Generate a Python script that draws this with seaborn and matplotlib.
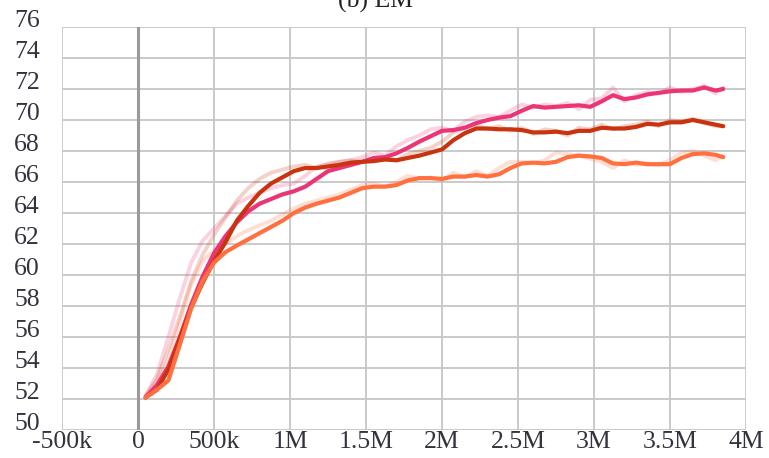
import matplotlib
matplotlib.use("Agg")
import matplotlib.pyplot as plt
import numpy as np
import pandas as pd
import seaborn as sns

# training steps (thousands)
steps_k = [50, 125, 200, 275, 350, 425, 500, 575, 650, 725, 800, 875, 950, 1025,
           1100, 1175, 1250, 1325, 1400, 1475, 1550, 1625, 1700, 1775, 1850, 1925,
           2000, 2075, 2150, 2225, 2300, 2375, 2450, 2525, 2600, 2675, 2750, 2825,
           2900, 2975, 3050, 3125, 3200, 3275, 3350, 3425, 3500, 3575, 3650, 3725,
           3800, 3850]

# smoothed curves
pink = [52.1, 52.9, 54.1, 56.0, 58.1, 59.9, 61.4, 62.5, 63.4, 64.1, 64.6, 64.9, 65.2,
        65.4, 65.7, 66.2, 66.7, 66.9, 67.1, 67.3, 67.55, 67.6, 67.85, 68.2, 68.6, 68.95,
        69.3, 69.35, 69.5, 69.8, 70.0, 70.15, 70.25, 70.6, 70.9, 70.8, 70.85, 70.9,
        70.95, 70.85, 71.2, 71.6, 71.35, 71.45, 71.65, 71.75, 71.85, 71.9, 71.9, 72.1,
        71.9, 72.0]
darkred = [52.1, 52.6, 53.9, 55.9, 57.9, 59.5, 60.9, 62.1, 63.5, 64.45, 65.3, 65.9, 66.3,
           66.7, 66.9, 66.9, 67.0, 67.1, 67.25, 67.3, 67.35, 67.45, 67.4, 67.55, 67.7,
           67.9, 68.1, 68.7, 69.15, 69.45, 69.45, 69.4, 69.4, 69.35, 69.2, 69.2, 69.25,
           69.15, 69.3, 69.3, 69.5, 69.45, 69.45, 69.55, 69.75, 69.7, 69.85, 69.85, 70.0,
           69.85, 69.7, 69.6]
orange = [52.1, 52.6, 53.2, 55.5, 57.85, 59.6, 60.8, 61.47, 61.9, 62.3, 62.7, 63.1, 63.5,
          64.0, 64.35, 64.6, 64.8, 65.0, 65.3, 65.6, 65.7, 65.7, 65.8, 66.1, 66.25, 66.25,
          66.2, 66.35, 66.35, 66.45, 66.35, 66.5, 66.9, 67.2, 67.25, 67.2, 67.3, 67.6,
          67.7, 67.65, 67.55, 67.2, 67.15, 67.25, 67.15, 67.15, 67.15, 67.55, 67.8, 67.85,
          67.75, 67.6]

# raw (faint) curves
pink_raw = [52.2, 53.6, 56.0, 58.5, 60.8, 62.2, 63.0, 63.8, 64.6, 65.0, 65.3, 65.6, 65.8,
            65.9, 66.4, 67.0, 67.1, 67.3, 67.4, 67.6, 67.9, 67.7, 68.3, 68.7, 69.0, 69.4,
            69.5, 69.3, 69.9, 70.2, 70.3, 70.2, 70.6, 71.0, 70.8, 71.0, 70.9, 71.1, 70.7,
            71.3, 71.4, 72.1, 71.2, 71.6, 71.8, 71.7, 72.1, 71.8, 72.0, 72.2, 71.7, 72.1]
darkred_raw = [52.2, 53.3, 55.2, 57.3, 59.6, 61.3, 62.6, 63.7, 64.8, 65.6, 66.2, 66.6, 66.8,
               67.0, 67.1, 66.9, 67.2, 67.3, 67.4, 67.3, 67.5, 67.6, 67.4, 67.8, 68.0, 68.2,
               68.6, 69.2, 69.5, 69.7, 69.4, 69.6, 69.3, 69.5, 69.1, 69.4, 69.3, 69.0, 69.5,
               69.4, 69.7, 69.4, 69.6, 69.7, 69.9, 69.6, 70.0, 69.9, 70.1, 69.8, 69.6, 69.6]
orange_raw = [52.2, 53.0, 54.6, 57.0, 59.4, 60.9, 61.6, 62.0, 62.5, 62.9, 63.2, 63.5, 63.9,
              64.3, 64.6, 64.8, 65.0, 65.2, 65.5, 65.8, 65.9, 65.7, 66.0, 66.4, 66.2, 66.3,
              66.1, 66.6, 66.3, 66.7, 66.4, 66.9, 67.3, 67.3, 67.2, 67.4, 67.9, 67.8, 67.7,
              67.5, 67.3, 66.9, 67.4, 67.1, 67.2, 67.1, 67.4, 67.9, 68.0, 67.7, 67.4, 67.7]

x_ticks = [-500000, 0, 500000, 1000000, 1500000, 2000000, 2500000, 3000000, 3500000, 4000000]
x_labels = ["-500k", "0", "500k", "1M", "1.5M", "2M", "2.5M", "3M", "3.5M", "4M"]
y_ticks = list(range(50, 77, 2))

colors = {"pink": "#ec3576", "darkred": "#c9330f", "orange": "#ff6f3f"}

steps = np.array(steps_k) * 1000
rows = []
for name, sm, raw in [("pink", pink, pink_raw), ("darkred", darkred, darkred_raw),
                      ("orange", orange, orange_raw)]:
    for s, a, b in zip(steps, sm, raw):
        rows.append({"step": s, "run": name, "smooth": a, "raw": b})
df = pd.DataFrame(rows)

sns.set_style("white")
plt.rcParams["font.family"] = ["Liberation Serif", "DejaVu Serif"]

fig = plt.figure(figsize=(7.69, 4.58), dpi=100)
ax = fig.add_axes([62 / 769, 28 / 458, 684 / 769, 403 / 458])

# faint raw curves
sns.lineplot(data=df, x="step", y="raw", hue="run", palette=colors, ax=ax,
             linewidth=2.8, alpha=0.22, legend=False)
sns.lineplot(data=df, x="step", y="smooth", hue="run", palette=colors, ax=ax,
             linewidth=3.0, legend=False)

ax.axvline(0, color="#9a9a9a", linewidth=2.2, zorder=1)

ax.set_xlim(-500000, 4000000)
ax.set_ylim(50, 76)
ax.set_xticks(x_ticks)
ax.set_xticklabels(x_labels)
ax.set_yticks(y_ticks)
ax.set_xlabel("")
ax.set_ylabel("")
ax.grid(True, color="#c6c6c6", linewidth=1.3)
ax.set_axisbelow(True)
for sp in ax.spines.values():
    sp.set_visible(False)

ax.tick_params(axis="y", length=9, width=1.3, color="#c6c6c6", pad=7,
               labelsize=18.5, labelcolor="#33323f")
ax.tick_params(axis="x", length=0, pad=1, labelsize=18.5, labelcolor="#33323f")
for lab in ax.get_yticklabels():
    lab.set_verticalalignment("baseline")

fig.text(375 / 769, 1 - 8 / 458, "(b) EM", ha="center", va="baseline",
         fontsize=18.5, color="#222222")

fig.savefig("out.png", dpi=100)
